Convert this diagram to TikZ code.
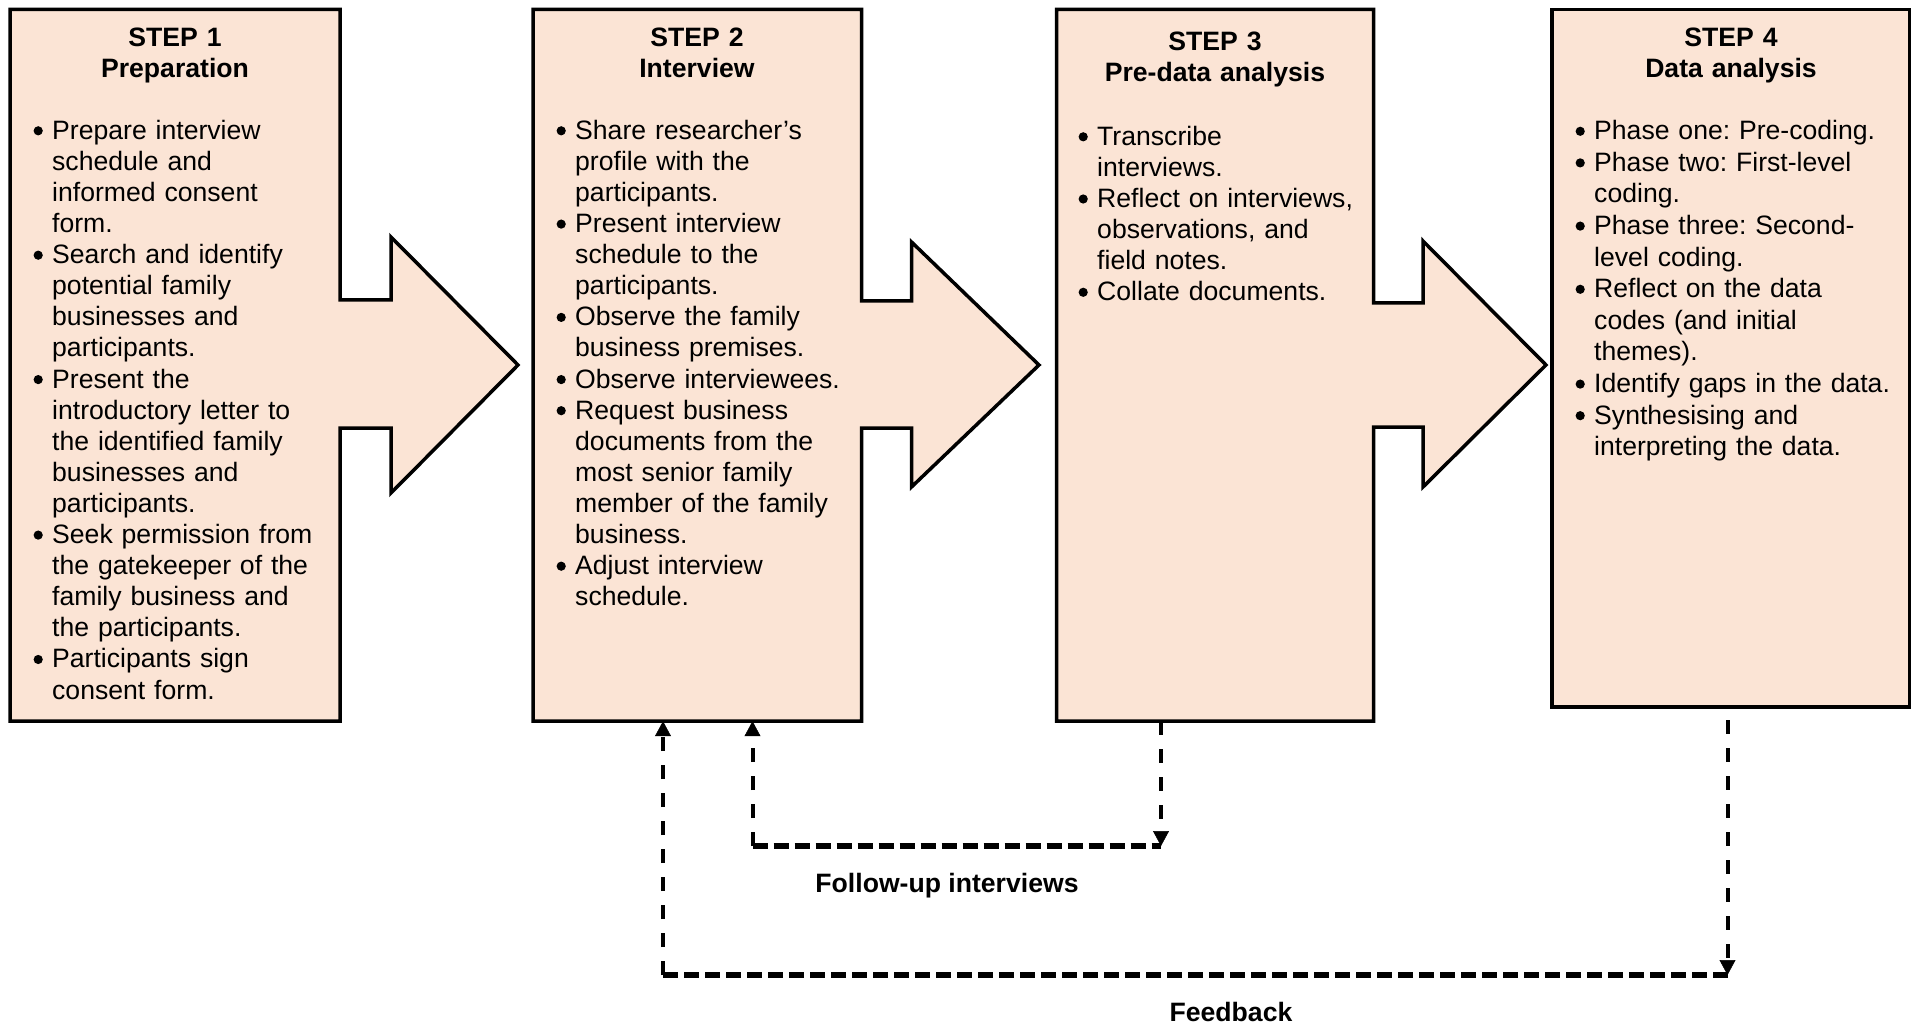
\documentclass[tikz,border=0pt]{standalone}
\usepackage{fontspec}
\setmainfont{Liberation Sans}
\usetikzlibrary{arrows.meta}
\definecolor{peach}{RGB}{251,228,213}

% round bullet with a fixed-height strut, so every line has the same top
\newcommand\stepbullet{\rule{0pt}{20pt}\tikz[baseline=0pt,x=1pt,y=1pt]{\useasboundingbox (0,0) rectangle (9.3,1); \fill[black] (4.65,8.5) circle[radius=4.6];}}
\newenvironment{steplist}{\begin{list}{\stepbullet}{%
  \setlength{\leftmargin}{20pt}\setlength{\labelwidth}{9.3pt}%
  \setlength{\labelsep}{9.35pt}\setlength{\itemsep}{0pt}%
  \setlength{\parsep}{0pt}\setlength{\topsep}{0pt}%
  \setlength{\partopsep}{0pt}\setlength{\itemindent}{0pt}%
  \setlength{\listparindent}{0pt}}}{\end{list}}

\tikzset{
  stepshape/.style={draw=black, line width=3.5pt, fill=peach, line join=miter},
  stepframe/.style={draw=none, inner sep=0pt, rectangle},
  steptitle/.style={anchor=north, text width=#1, align=center, inner sep=0pt, font=\bfseries},
  stepbody/.style={anchor=north west, text width=#1, align=left, inner sep=0pt},
  vdashes/.style={line width=4pt, dash pattern=on 14pt off 14pt},
  hdashes/.style={line width=5.5pt, dash pattern=on 15pt off 6pt},
  flowtip/.style={-{Triangle[width=16pt,length=15pt,line width=0.5pt]}},
  looplabel/.style={anchor=base, font=\bfseries, inner sep=0pt},
}

\begin{document}
\frenchspacing
\fontsize{26.6pt}{31.1pt}\selectfont
\begin{tikzpicture}[x=1pt, y=-1pt]
\useasboundingbox (0,0) rectangle (1912,1024);

% box outlines with their block arrows
\draw[stepshape] (10,9.5) -- (340,9.5) -- (340,300) -- (391,300) -- (391,237)
  -- (518,365) -- (391,493) -- (391,428) -- (340,428) -- (340,721) -- (10,721) -- cycle;
\draw[stepshape] (533,9.5) -- (861.5,9.5) -- (861.5,301) -- (911.5,301) -- (911.5,242)
  -- (1039,365) -- (911.5,487) -- (911.5,428) -- (861.5,428) -- (861.5,721) -- (533,721) -- cycle;
\draw[stepshape] (1056.5,9.5) -- (1373.5,9.5) -- (1373.5,303) -- (1423,303) -- (1423,241)
  -- (1546,365) -- (1423,487) -- (1423,427) -- (1373.5,427) -- (1373.5,721) -- (1056.5,721) -- cycle;
\draw[stepshape] (1552,9.5) rectangle (1909.5,707);

% named frames of the four steps
\node[stepframe, minimum width=330pt, minimum height=711.5pt] (s1) at (175,365.25) {};
\node[stepframe, minimum width=328.5pt, minimum height=711.5pt] (s2) at (697.25,365.25) {};
\node[stepframe, minimum width=317pt, minimum height=711.5pt] (s3) at (1215,365.25) {};
\node[stepframe, minimum width=357.5pt, minimum height=697.5pt] (s4) at (1730.75,358.25) {};

% titles
\node[steptitle=310pt] (t1) at (175,26) {\rule{0pt}{20pt}STEP 1\\Preparation};
\node[steptitle=310pt] (t2) at (697,26) {\rule{0pt}{20pt}STEP 2\\Interview};
\node[steptitle=300pt] (t3) at (1215,30.5) {\rule{0pt}{20pt}STEP 3\\Pre-data analysis};
\node[steptitle=340pt] (t4) at (1731,26) {\rule{0pt}{20pt}STEP 4\\Data analysis};

% bullet lists
\node[stepbody=300pt] (b1) at (32,108) {%
\begin{steplist}
\item Prepare interview\newline schedule and\newline informed consent\newline form.
\item Search and identify\newline potential family\newline businesses and\newline participants.
\item Present the\newline introductory letter to\newline the identified family\newline businesses and\newline participants.
\item Seek permission from\newline the gatekeeper of the\newline family business and\newline the participants.
\item Participants sign\newline consent form.
\end{steplist}};

\node[stepbody=300pt] (b2) at (555,108) {%
\begin{steplist}
\item Share researcher’s\newline profile with the\newline participants.
\item Present interview\newline schedule to the\newline participants.
\item Observe the family\newline business premises.
\item Observe interviewees.
\item Request business\newline documents from the\newline most senior family\newline member of the family\newline business.
\item Adjust interview\newline schedule.
\end{steplist}};

\node[stepbody=290pt] (b3) at (1077,114) {%
\begin{steplist}
\item Transcribe\newline interviews.
\item Reflect on interviews,\newline observations, and\newline field notes.
\item Collate documents.
\end{steplist}};

\node[stepbody=330pt] (b4) at (1574,108) {\fontsize{26.6pt}{31.6pt}\selectfont
\begin{steplist}
\item Phase one: Pre-coding.
\item Phase two: First-level\newline coding.
\item Phase three: Second-\newline level coding.
\item Reflect on the data\newline codes (and initial\newline themes).
\item Identify gaps in the data.
\item Synthesising and\newline interpreting the data.
\end{steplist}};

% follow-up loop: step 3 back to step 2
\coordinate (fuTurn) at (1161,846);
\coordinate (fuCorner) at (752.5,846);
\draw[vdashes, flowtip] (s3.south -| fuTurn) -- (fuTurn);
\draw[hdashes] (fuCorner) -- (fuTurn);
\draw[vdashes, flowtip] (fuCorner) -- (s2.south -| fuCorner);

% feedback loop: step 4 back to step 2
\coordinate (fbStart) at (1727.5,720);
\coordinate (fbTurn) at (1727.5,975);
\coordinate (fbCorner) at (663,975);
\draw[vdashes, flowtip] (fbStart) -- (fbTurn);
\draw[hdashes] (fbCorner) -- (fbTurn);
\draw[vdashes, flowtip] (fbCorner) -- (s2.south -| fbCorner);

\node[looplabel] (fulabel) at (947,892) {Follow-up interviews};
\node[looplabel] (fblabel) at (1231,1021) {Feedback};
\end{tikzpicture}
\end{document}
